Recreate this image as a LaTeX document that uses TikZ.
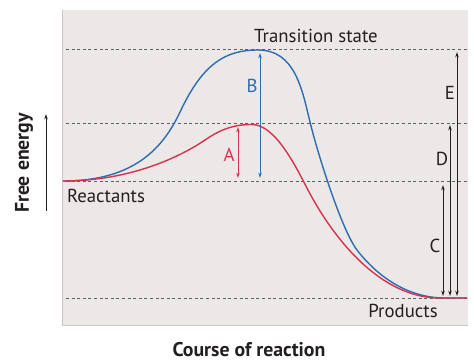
\documentclass[tikz,border=0pt]{standalone}
\usepackage{fontspec}
\setmainfont{PT Sans}
\usetikzlibrary{positioning}
\usetikzlibrary{arrows.meta}

\definecolor{panelgray}{RGB}{236,232,231}
\definecolor{edgegray}{RGB}{205,200,199}
\definecolor{dashgray}{RGB}{95,95,95}
\definecolor{inkblack}{RGB}{35,31,32}
\definecolor{curveblue}{RGB}{45,108,178}
\definecolor{curvered}{RGB}{214,50,78}

\begin{document}
\begin{tikzpicture}[
		x=1pt, y=-1pt,
		dashline/.style={
			draw=dashgray,
			dash pattern=on 3pt off 2.6pt,
			line width=0.7pt
		},
		curve/.style={
			line width=1.4pt
		},
		gap/.style={
			line width=0.8pt,
			{Stealth[length=5.5pt,width=3.6pt]}-{Stealth[length=5.5pt,width=3.6pt]}
		},
		lbl/.style={
			font=\fontsize{18.8pt}{22pt}\selectfont,
			text=inkblack,
			inner sep=1pt
		},
		axislbl/.style={
			font=\fontsize{19.8pt}{23pt}\selectfont\bfseries,
			text=inkblack
		}
		]
		
		\useasboundingbox (0,0) rectangle (474,362);
		
		\fill[panelgray] (62,10) rectangle (468,325);
		\draw[edgegray, line width=0.8pt] (62,10) -- (62,325) -- (468,325);
		
		\coordinate (tsleft) at (66,49);
		\coordinate (tsright) at (467,49);
		\coordinate (midleft) at (66,123);
		\coordinate (midright) at (467,123);
		\coordinate (reactleft) at (66,181);
		\coordinate (reactright) at (467,181);
		\coordinate (prodleft) at (66,298);
		\coordinate (prodright) at (467,298);
		
		\draw[dashline] (tsleft) -- (tsright);
		\draw[dashline] (midleft) -- (midright);
		\draw[dashline] (reactleft) -- (reactright);
		\draw[dashline] (prodleft) -- (prodright);
		
		% blue curve (uncatalysed)
		\draw[curve, curveblue] (63,181)
			.. controls (140,181) and (166,142) .. (181,110)
			.. controls (203,64) and (225,50) .. (258,50)
			.. controls (295,50) and (302,89) .. (310,122)
			.. controls (318,155) and (342,230.5) .. (357,250)
			.. controls (375,273.4) and (405,298) .. (445,298)
			-- (467,298);
		
		% red curve (catalysed)
		\draw[curve, curvered] (63,181)
			.. controls (130,181) and (180,157) .. (205,140)
			.. controls (222,128.4) and (235,124.5) .. (252,124.5)
			.. controls (275,124.5) and (295,165) .. (308,190)
			.. controls (322,217) and (370,298) .. (440,298)
			-- (467,298);
		
		% activation and free-energy gaps
		\coordinate (atop) at (238,127);
		\coordinate (abot) at (238,178);
		\coordinate (btop) at (260,53);
		\coordinate (bbot) at (260,178);
		\coordinate (ctop) at (443,185);
		\coordinate (cbot) at (443,296);
		\coordinate (dtop) at (450,125);
		\coordinate (dbot) at (450,296);
		\coordinate (etop) at (457,52);
		\coordinate (ebot) at (457,296);
		
		\draw[gap, curvered] (atop) -- (abot);
		\draw[gap, curveblue] (btop) -- (bbot);
		\draw[gap, inkblack] (ctop) -- (cbot);
		\draw[gap, inkblack] (dtop) -- (dbot);
		\draw[gap, inkblack] (etop) -- (ebot);
		
		\node[lbl, text=curvered] (alabel) at (229,155) {A};
		\node[lbl, text=curveblue] (blabel) at (252,86) {B};
		\node[lbl] (clabel) at (435,246) {C};
		\node[lbl] (dlabel) at (442,159) {D};
		\node[lbl] (elabel) at (450,93) {E};
		
		\node[lbl] (transition) at (316,36) {Transition state};
		\node[lbl] (reactants) at (106,196) {Reactants};
		\node[lbl] (products) at (403,311) {Products};
		
		% axes
		\coordinate (yfoot) at (46,211);
		\coordinate (yhead) at (46,114);
		\draw[inkblack, line width=0.8pt, -{Stealth[length=5.5pt,width=3.6pt]}] (yfoot) -- (yhead);
		\node[axislbl, rotate=90] (freeenergy) at (24,163) {Free energy};
		\node[axislbl] (course) at (249,350) {Course of reaction};
		
	\end{tikzpicture}
\end{document}
